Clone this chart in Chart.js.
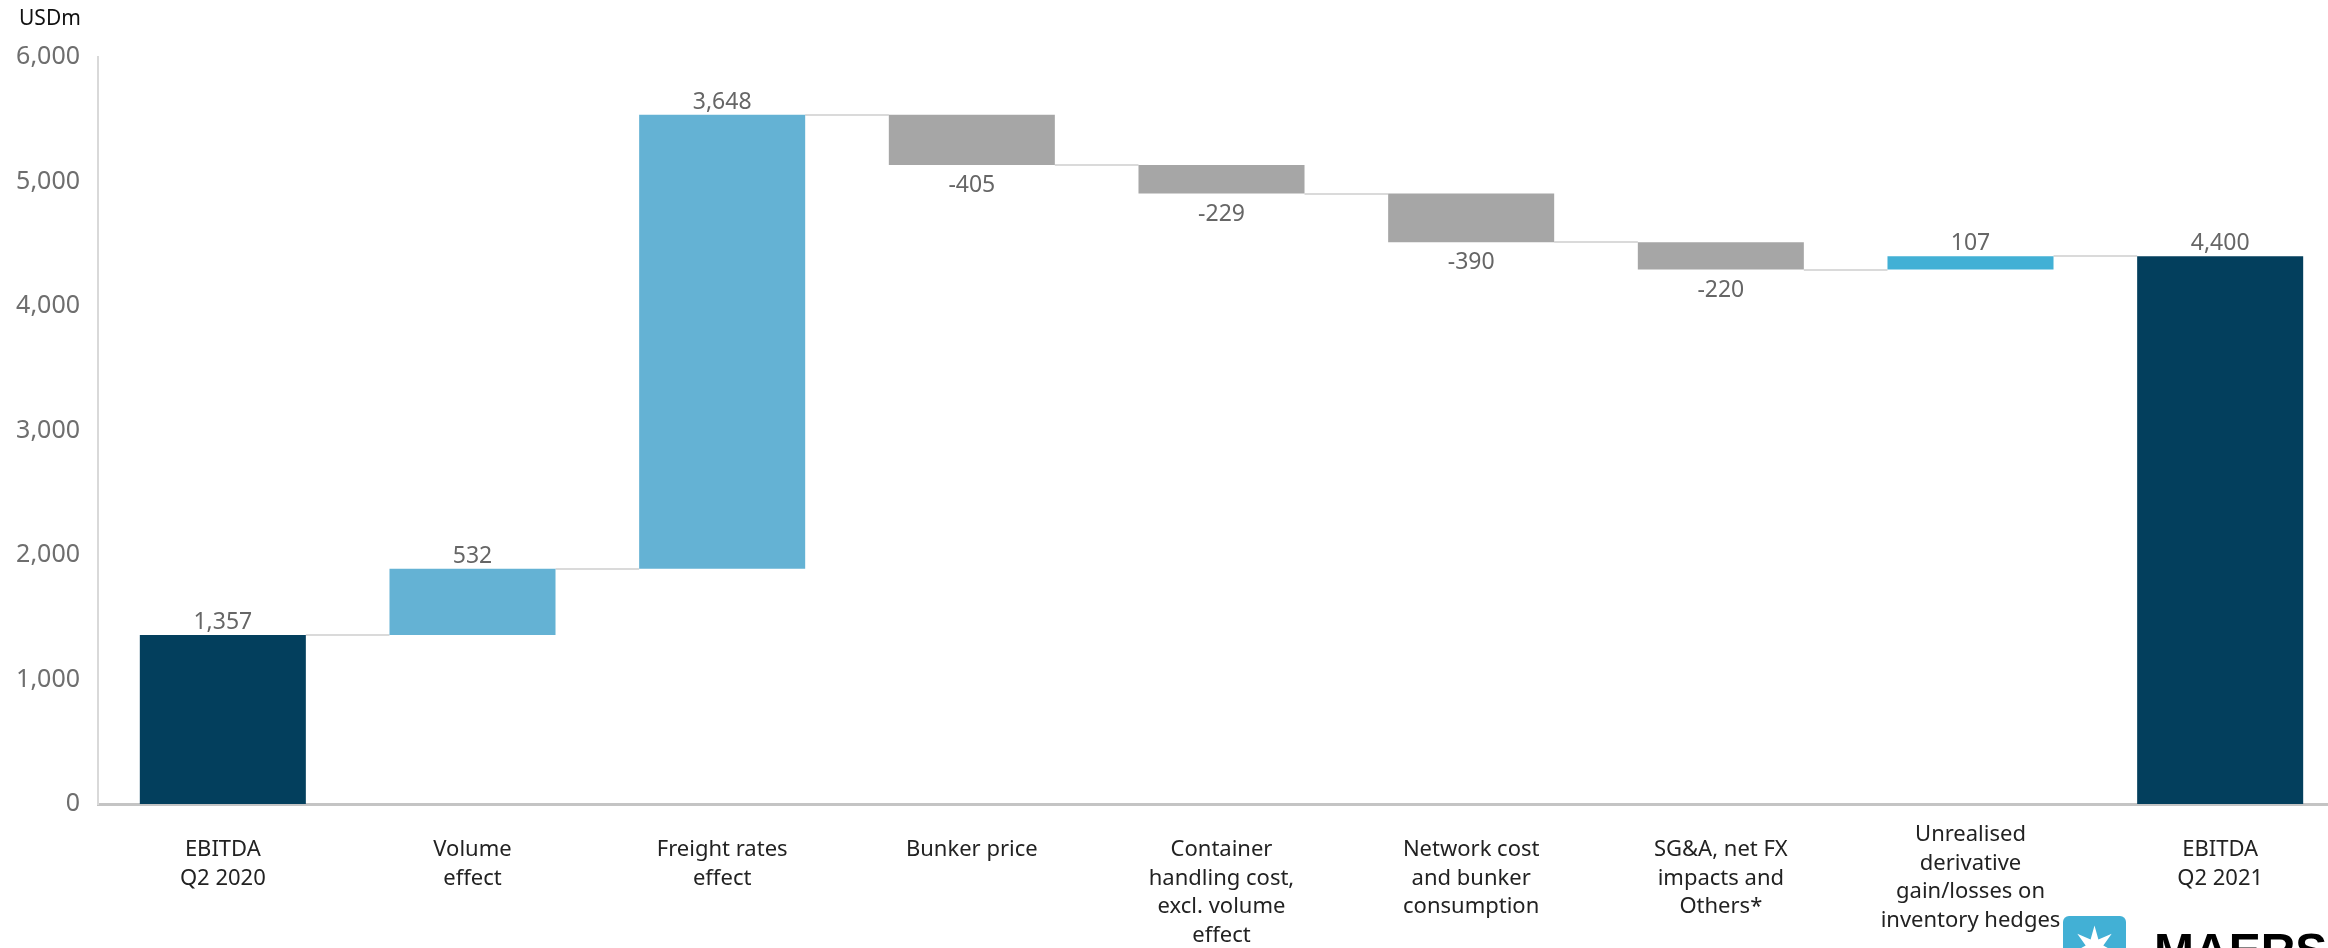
<!DOCTYPE html>
<html>
<head>
<meta charset="utf-8">
<script src="https://cdn.jsdelivr.net/npm/chart.js@4.4.1/dist/chart.umd.min.js"></script>
<style>
  html, body { margin: 0; padding: 0; background: #fff; overflow: hidden; }
  #wrap { position: relative; width: 2328px; height: 948px; overflow: hidden; }
  #bridge { position: absolute; left: 0; top: 0; }
  .unit { position: absolute; left: 19px; top: 3px; font: 21px "Noto Sans", sans-serif; color: #111; }
  .logo-box { position: absolute; left: 2063px; top: 916px; width: 63px; height: 63px; border-radius: 6px; background: #42b0d5; }
  .logo-box svg { position: absolute; left: 0; top: 0; }
  .logo-text { position: absolute; left: 2154px; top: 927px; font: bold 48px "Liberation Sans", sans-serif; line-height: 1; color: #000; }
</style>
</head>
<body>
<div id="wrap">
  <canvas id="bridge" width="2345" height="948"></canvas>
  <div class="unit">USDm</div>
  <div class="logo-box"><svg width="63" height="63" id="star"></svg></div>
  <div class="logo-text">MAERSK</div>
</div>
<script>
// EBITDA bridge Q2 2020 -> Q2 2021, USDm
const categories = [
  ['EBITDA', 'Q2 2020'],
  ['Volume', 'effect'],
  ['Freight rates', 'effect'],
  ['Bunker price'],
  ['Container', 'handling cost,', 'excl. volume', 'effect'],
  ['Network cost', 'and bunker', 'consumption'],
  ['SG&A, net FX', 'impacts and', 'Others*'],
  ['Unrealised', 'derivative', 'gain/losses on', 'inventory hedges'],
  ['EBITDA', 'Q2 2021']
];
const changes = [1357, 532, 3648, -405, -229, -390, -220, 107, 4400];
const kinds = ['total', 'up', 'up', 'down', 'down', 'down', 'down', 'hedge', 'total'];
const yTicks = [0, 1000, 2000, 3000, 4000, 5000, 6000];

const kindColors = { total: '#033f5d', up: '#64b2d4', down: '#a6a6a6', hedge: '#42b0d5' };

// floating bars from the running total
const bars = [];
let running = 0;
changes.forEach((v, i) => {
  if (kinds[i] === 'total') {
    bars.push([0, v]);
    running = v;
  } else {
    bars.push([running, running + v]);
    running += v;
  }
});

const fmt = v => v.toLocaleString('en-US');

const connectors = {
  id: 'connectors',
  beforeDatasetsDraw(chart) {
    const ctx = chart.ctx;
    const meta = chart.getDatasetMeta(0);
    const y = chart.scales.y;
    ctx.save();
    ctx.strokeStyle = '#dadada';
    ctx.lineWidth = 2;
    for (let i = 0; i < bars.length - 1; i++) {
      const a = meta.data[i], b = meta.data[i + 1];
      const py = Math.round(y.getPixelForValue(bars[i][1]));
      ctx.beginPath();
      ctx.moveTo(a.x + a.width / 2, py);
      ctx.lineTo(b.x - b.width / 2, py);
      ctx.stroke();
    }
    ctx.restore();
  }
};

const valueLabels = {
  id: 'valueLabels',
  afterDatasetsDraw(chart) {
    const ctx = chart.ctx;
    const meta = chart.getDatasetMeta(0);
    ctx.save();
    ctx.font = '23px "Noto Sans", sans-serif';
    ctx.fillStyle = '#666666';
    ctx.textAlign = 'center';
    ctx.textBaseline = 'alphabetic';
    meta.data.forEach((bar, i) => {
      const top = Math.min(bar.y, bar.base);
      const bottom = Math.max(bar.y, bar.base);
      if (changes[i] < 0) {
        ctx.fillText(fmt(changes[i]), bar.x, bottom + 27);
      } else {
        ctx.fillText(fmt(changes[i]), bar.x, top - 6);
      }
    });
    ctx.restore();
  }
};

// the hedges label sits a little higher, clear of the logo
const liftLabel = {
  id: 'liftLabel',
  beforeDraw(chart) {
    const items = chart.scales.x.getLabelItems();
    if (items[7] && !items[7]._lifted) {
      items[7].textOffset -= 15;
      items[7]._lifted = true;
    }
  }
};

new Chart(document.getElementById('bridge'), {
  type: 'bar',
  data: {
    labels: categories,
    datasets: [{
      data: bars,
      backgroundColor: kinds.map(k => kindColors[k]),
      borderWidth: 0,
      barPercentage: 0.665,
      categoryPercentage: 1
    }]
  },
  options: {
    responsive: false,
    animation: false,
    layout: { padding: { top: 57, right: 0, bottom: 0, left: 0 } },
    plugins: { legend: { display: false }, tooltip: { enabled: false } },
    scales: {
      x: {
        grid: { display: false, drawTicks: false },
        border: { display: true, color: '#c4c4c4', width: 3 },
        ticks: {
          color: '#222222',
          padding: 32,
          maxRotation: 0,
          autoSkip: false,
          font: { family: '"Noto Sans", sans-serif', size: 22, lineHeight: 1.29 }
        },
        afterFit(scale) { scale.height = 144; }
      },
      y: {
        min: 0,
        max: 6000,
        grid: { display: false, drawTicks: false },
        border: { display: true, color: '#d9d9d9', width: 2 },
        afterBuildTicks(axis) { axis.ticks = yTicks.map(v => ({ value: v })); },
        ticks: {
          color: '#6e6e6e',
          padding: 18,
          font: { family: '"Noto Sans", sans-serif', size: 25 },
          callback: v => fmt(v)
        },
        afterFit(scale) { scale.width = 98; }
      }
    }
  },
  plugins: [connectors, valueLabels, liftLabel]
});

// seven-point star of the logo
const star = document.getElementById('star');
const pts = [];
for (let k = 0; k < 14; k++) {
  const r = k % 2 === 0 ? 22 : 9;
  const a = -Math.PI / 2 + k * Math.PI / 7;
  pts.push((31.5 + r * Math.cos(a)).toFixed(1) + ',' + (31.5 + r * Math.sin(a)).toFixed(1));
}
star.innerHTML = '<polygon fill="#fff" points="' + pts.join(' ') + '"/>';
</script>
</body>
</html>
